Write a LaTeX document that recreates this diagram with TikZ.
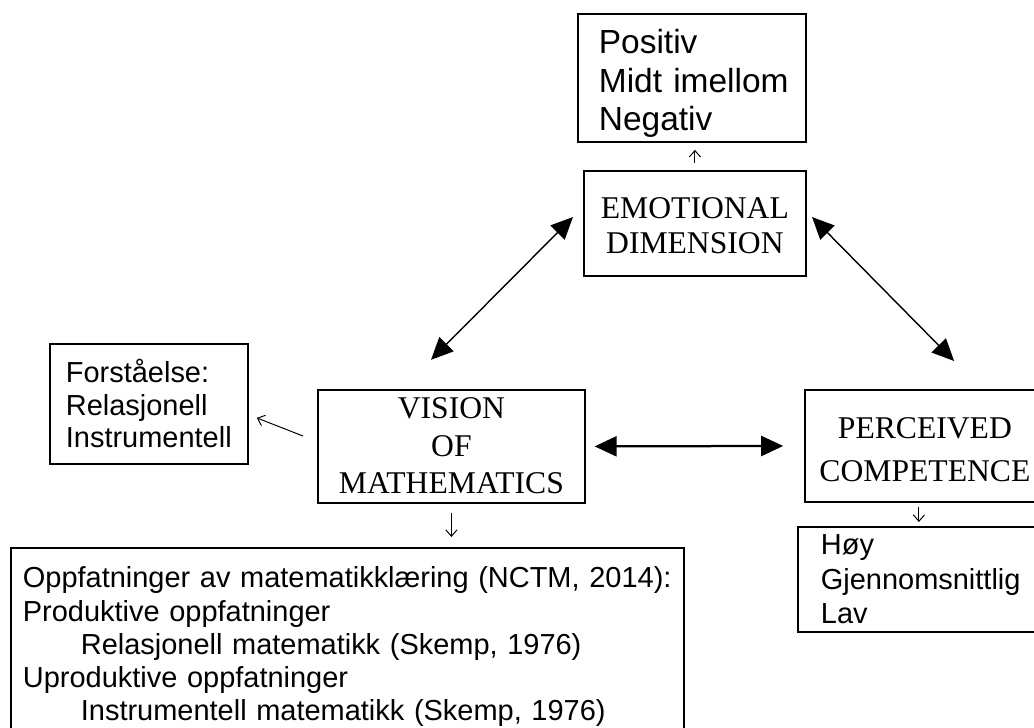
\documentclass[tikz,border=0pt]{standalone}
\usepackage{fontspec}
\setmainfont{Liberation Sans}
\newfontfamily\capsfont{Liberation Serif}
\usetikzlibrary{arrows.meta, calc}

\begin{document}
\begin{tikzpicture}[
    box/.style={draw, line width=1.3pt, anchor=north west, inner ysep=0pt},
    listbox/.style={box, align=left, font=\fontsize{20.6}{24.3}\selectfont},
    dimbox/.style={box, align=center, inner xsep=0.1cm},
    bigarrow/.style={{Triangle[length=0.55cm, width=0.5cm]}-{Triangle[length=0.55cm, width=0.5cm]}, line width=1pt},
    smallarrow/.style={-{Straight Barb[length=1.6mm, width=2.8mm]}, line width=0.7pt}
]
\useasboundingbox (0,0) rectangle (25.85,18.175);
\clip (0,0) rectangle (25.85,18.175);

% the three dimensions
\node[dimbox, text width=5.35cm, text height=1.2cm, text depth=1.425cm, font=\capsfont\fontsize{22.5}{24.9}\selectfont] (emo) at (14.575,13.925) {EMOTIONAL\\DIMENSION};
\node[dimbox, text width=6.475cm, text height=0.725cm, text depth=2.1cm, font=\capsfont\fontsize{22.5}{26.7}\selectfont] (vision) at (7.925,8.45) {VISION\\OF\\MATHEMATICS};
\node[dimbox, text width=5.8cm, text height=1.225cm, text depth=1.575cm, font=\capsfont\fontsize{22.5}{30.6}\selectfont] (perc) at (20.1,8.45) {PERCEIVED\\COMPETENCE};

% categories
\node[listbox, inner xsep=0.525cm, text width=4.65cm, text height=1.0cm, text depth=2.2cm, font=\fontsize{23.8}{27.4}\selectfont] (resp) at (14.425,17.85) {Positiv\\\mbox{Midt imellom}\\Negativ};
\node[listbox, inner xsep=0.4cm, text width=4.15cm, text height=0.975cm, text depth=2.025cm, font=\fontsize{20.6}{23.1}\selectfont] (forst) at (1.225,9.6) {Forståelse:\\Relasjonell\\Instrumentell};
\node[listbox, inner xsep=0.575cm, text width=5.425cm, text height=0.7cm, text depth=1.925cm] (level) at (19.925,5.025) {Høy\\Gjennomsnittlig\\Lav};
\node[listbox, inner xsep=0.3cm, text width=16.225cm, text height=1.0cm, text depth=3.825cm, font=\fontsize{20.6}{23.6}\selectfont] (beliefs) at (0.25,4.5) {Oppfatninger av matematikklæring (NCTM, 2014):\\Produktive oppfatninger\\\hspace*{1.45cm}Relasjonell matematikk (Skemp, 1976)\\Uproduktive oppfatninger\\\hspace*{1.45cm}Instrumentell matematikk (Skemp, 1976)};

% links between dimensions
\draw[bigarrow] ($(emo.west)+(-0.25,0.16)$) -- ($(vision.north)+(-0.51,0.73)$);
\draw[bigarrow] ($(emo.east)+(0.13,0.16)$) -- ($(perc.north)+(0.73,0.7)$);
\draw[bigarrow, line width=1.6pt, shorten <=0.22cm, shorten >=0.52cm] (vision.east) -- (perc.west);

% small arrows to categories
\draw[smallarrow, shorten <=1.75mm, shorten >=1.75mm] (emo.north) -- (emo.north |- resp.south);
\draw[smallarrow, shorten <=2.25mm, shorten >=2.5mm] (vision.south) -- (vision.south |- beliefs.north);
\draw[smallarrow, shorten <=1mm, shorten >=1mm] ([xshift=-1.5mm]perc.south) -- ([xshift=-1.5mm]perc.south |- level.north);
\draw[smallarrow] ($(vision.west)+(-0.35,0.26)$) -- ($(forst.east)+(0.2,-0.35)$);
\end{tikzpicture}
\end{document}
